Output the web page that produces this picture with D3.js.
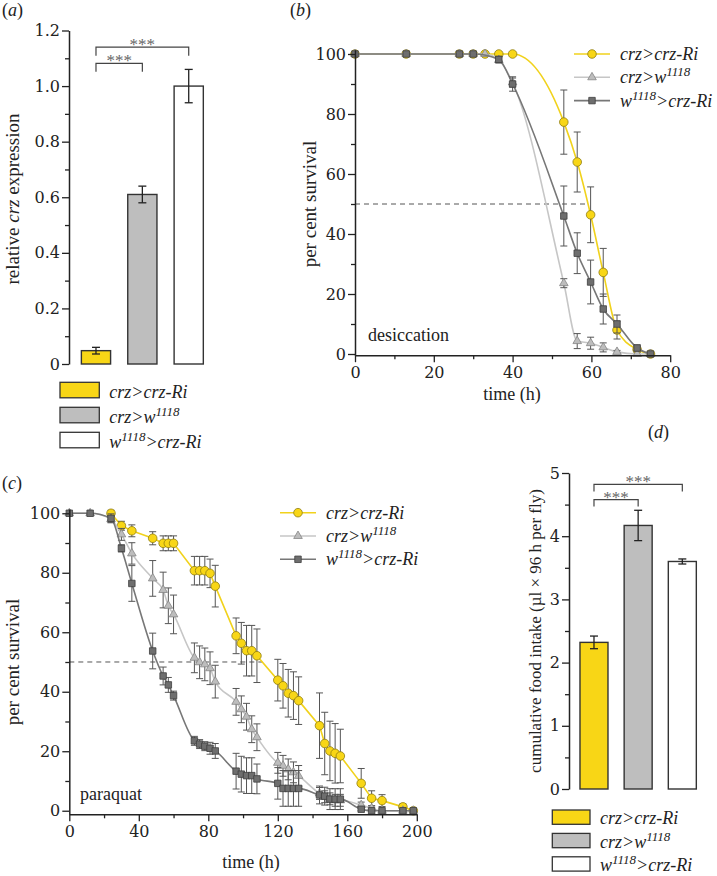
<!DOCTYPE html>
<html>
<head>
<meta charset="utf-8">
<script src="https://d3js.org/d3.v7.min.js"></script>
<style>
  body { margin: 0; background: #fff; }
  svg { display: block; }
  svg text { font-family: "Liberation Serif", "Times New Roman", serif; fill: #222; }
</style>
</head>
<body>
<svg id="fig" width="717" height="876"></svg>
<script>
// ---------------- data ----------------
// genotype labels: pieces of [text, superscript?]
var groupLabels = [
  [["crz>crz-Ri", false]],
  [["crz>w", false], ["1118", true]],
  [["w", false], ["1118", true], [">crz-Ri", false]]
];
var groupFill = ["#f8d616", "#bebebe", "#ffffff"];

// (a) relative crz expression
var exprMean = [0.048, 0.61, 1.0];
var exprErr = [0.012, 0.03, 0.06];
var exprTicks = [0, 0.2, 0.4, 0.6, 0.8, 1.0, 1.2];
var exprSigPairs = [[0, 1], [0, 2]];
var exprSigLevels = [1.082, 1.14];

// (d) cumulative food intake
var intakeMean = [2.32, 4.17, 3.6];
var intakeErr = [0.1, 0.24, 0.04];
var intakeTicks = [0, 1, 2, 3, 4, 5];
var intakeSigPairs = [[0, 1], [0, 2]];
var intakeSigLevels = [4.58, 4.82];

// (b) desiccation survival (%)
var desTime = [0, 13, 26.5, 30, 33, 36.5, 40, 53, 56.4, 59.8, 63, 66.5, 71.6, 75];
var desRi = [100, 100, 100, 100, 100, 100, 100, 77.3, 64, 46.4, 27.2, 8, 1.5, 0];
var desRiErr = [0, 0, 0, 0, 0, 0, 0, 10.7, 10, 9.3, 8, 3, 1, 0];
var desW = [100, 100, 100, 100, 100, 98, 90.5, 23.6, 4.3, 3.6, 2.2, 0.7, 0, 0];
var desWErr = [0, 0, 0, 0, 0, 1, 1.5, 1.5, 2.5, 2, 1.5, 0.5, 0, 0];
var desTimeWRi = [0, 13, 26.5, 30, 36.5, 40, 53, 56.4, 59.8, 63, 66.5, 71.6, 75];
var desWRi = [100, 100, 100, 100, 98.2, 90, 46, 33.6, 24, 15, 10, 2, 0];
var desWRiErr = [0, 0, 0, 0, 1, 2.4, 10, 6.8, 7.3, 5, 3, 1, 0];

// (c) paraquat survival (%)
var parTime = [0, 12, 24, 30, 36, 48, 54, 57, 60, 72, 75, 78, 81, 84, 96, 99, 102, 105, 108,
  120, 123, 126, 129, 132, 144, 147, 150, 153, 156, 168, 174, 180, 192, 198];
var parTimeRi = parTime.slice(2);
var parRi = [100, 95.8, 94.1, 91.6, 89.9, 89.9, 89.9, 80.7, 80.7, 80.7, 79.8, 75.5, 58.8, 56.3,
  53.8, 53.8, 52.1, 43.9, 42, 39.5, 38.7, 37, 28.6, 22.6, 20.1, 19.3, 18.4, 9.2, 4.2, 3.4, 1.3, 0];
var parRiErr = [1, 1.5, 2, 2.2, 2.5, 2.5, 2.5, 4.8, 4.8, 4.8, 4.8, 7, 6, 7, 8.5, 8.5, 9, 7, 7.5,
  8, 8, 8, 11, 10.5, 10, 10, 9, 5, 2.5, 2, 1, 0];
var parW = [100, 100, 98, 92.9, 86.5, 78.1, 74.2, 68.9, 66, 51.4, 49.9, 49.2, 47.9, 43.4, 36.6,
  34.1, 31.6, 27.4, 24.7, 16.1, 15.1, 13.9, 12.9, 11.7, 5.8, 4.7, 4, 3.5, 3.5, 1.9, 0.8, 0, 0, 0];
var parWErr = [0, 0, 1, 2, 3.6, 6, 6, 6, 6.5, 5, 5.5, 5.5, 5.5, 5.5, 4.5, 4.5, 4.5, 4.5, 4.5,
  3.5, 3.5, 3.5, 3.5, 3.5, 2, 2, 2, 2, 2, 1, 0.8, 0, 0, 0];
var parWRi = [100, 100, 98.3, 88.2, 76.4, 53.7, 45.3, 42.3, 38.7, 23.5, 22.4, 21.7, 21, 20.1, 13.3,
  12.3, 11.8, 11.8, 10.7, 9.2, 7.5, 7.5, 7.5, 7.5, 5.3, 4.9, 3.9, 3.9, 3.9, 0.5, 0, 0, 0, 0];
var parWRiErr = [0, 0, 1.5, 1.2, 6, 6, 3, 2.5, 1.5, 1.5, 1.5, 1.5, 2, 2.5, 6, 6, 6, 6, 5,
  5.3, 6, 6, 6, 6, 3, 3, 3.5, 3.5, 3.5, 0.5, 0, 0, 0, 0];

var survTicks = [0, 20, 40, 60, 80, 100];
var survMinor = [10, 30, 50, 70, 90];

// ---------------- helpers ----------------
var svg = d3.select("#fig");
svg.append("rect").attr("width", 717).attr("height", 876).attr("fill", "#fff");

var styles = [
  {line: "#f1d21c", fill: "#f8d616", stroke: "#8f7d10", symbol: d3.symbolCircle, size: 58},
  {line: "#c6c6c6", fill: "#bdbdbd", stroke: "#858585", symbol: d3.symbolTriangle, size: 32},
  {line: "#777777", fill: "#6e6e6e", stroke: "#3e3e3e", symbol: d3.symbolSquare, size: 42}
];

function richLabel(text, pieces) {
  var up = false;
  pieces.forEach(function(p) {
    var ts = text.append("tspan").text(p[0]);
    if (p[1]) { ts.attr("dy", -7).attr("font-size", 13); up = true; }
    else if (up) { ts.attr("dy", 7); up = false; }
  });
}

function styleAxis(g) {
  g.attr("color", "#222");
  g.select(".domain").attr("stroke-width", 1.5);
  g.selectAll(".tick line").attr("stroke-width", 1.3);
  g.selectAll(".tick text").style("font-family", "'DejaVu Serif', serif").style("font-size", "16px");
}

function leftAxis(g, y, major, minor, fmt) {
  g.append("g").call(d3.axisLeft(y).tickValues(minor).tickSize(4).tickFormat("").tickSizeOuter(0))
    .call(function(s) { s.select(".domain").remove(); s.attr("color", "#222"); s.selectAll("line").attr("stroke-width", 1.3); });
  g.append("g").call(d3.axisLeft(y).tickValues(major).tickSize(7).tickPadding(2).tickFormat(fmt).tickSizeOuter(0))
    .call(styleAxis);
}

function bottomAxis(g, x, major, minor) {
  g.append("g").call(d3.axisBottom(x).tickValues(minor).tickSize(4).tickFormat("").tickSizeOuter(0))
    .call(function(s) { s.select(".domain").remove(); s.attr("color", "#222"); s.selectAll("line").attr("stroke-width", 1.3); });
  g.append("g").call(d3.axisBottom(x).tickValues(major).tickSize(7).tickPadding(4).tickSizeOuter(0))
    .call(styleAxis);
}

function yTitle(x, y, pieces, size) {
  var t = svg.append("text").attr("transform", "translate(" + x + "," + y + ") rotate(-90)")
    .attr("text-anchor", "middle").attr("font-size", size || 19);
  pieces.forEach(function(p) { t.append("tspan").attr("font-style", p[1] ? "italic" : null).text(p[0]); });
}

function panelLabel(x, y, letter) {
  var t = svg.append("text").attr("x", x).attr("y", y).attr("font-size", 18);
  t.append("tspan").text("(");
  t.append("tspan").attr("font-style", "italic").text(letter);
  t.append("tspan").text(")");
}

function errorBar(g, cx, yTop, yBot, cap) {
  g.append("line").attr("x1", cx).attr("x2", cx).attr("y1", yTop).attr("y2", yBot);
  g.append("line").attr("x1", cx - cap).attr("x2", cx + cap).attr("y1", yTop).attr("y2", yTop);
  g.append("line").attr("x1", cx - cap).attr("x2", cx + cap).attr("y1", yBot).attr("y2", yBot);
}

function barPanel(opt) {
  var x = d3.scaleBand().domain(d3.range(3)).range(opt.xRange).paddingInner(opt.pad).paddingOuter(opt.pad / 2);
  var y = d3.scaleLinear().domain(opt.yDomain).range(opt.yRange);
  var g = svg.append("g");
  leftAxis(g.append("g").attr("transform", "translate(" + opt.axisX + ",0)"), y, opt.ticks, opt.minor, opt.fmt);

  g.selectAll("rect.bar").data(opt.mean).join("rect").attr("class", "bar")
    .attr("x", function(d, i) { return x(i); })
    .attr("y", function(d) { return y(d); })
    .attr("width", x.bandwidth())
    .attr("height", function(d) { return y(0) - y(d); })
    .attr("fill", function(d, i) { return groupFill[i]; })
    .attr("stroke", "#333").attr("stroke-width", 1.4);

  var eb = g.append("g").attr("stroke", "#222").attr("stroke-width", 1.3);
  opt.mean.forEach(function(m, i) {
    errorBar(eb, x(i) + x.bandwidth() / 2, y(m + opt.err[i]), y(m - opt.err[i]), 4);
  });

  // significance brackets
  var br = g.append("g").attr("stroke", "#444").attr("stroke-width", 1.2).attr("fill", "none");
  opt.sigPairs.forEach(function(p, k) {
    var x1 = x(p[0]) + x.bandwidth() / 2, x2 = x(p[1]) + x.bandwidth() / 2;
    var yl = y(opt.sigLevels[k]), yd = yl + opt.drop;
    br.append("path").attr("d", "M" + x1 + "," + yd + "V" + yl + "H" + x2 + "V" + yd);
    g.append("text").attr("x", (x1 + x2) / 2).attr("y", yl + 3).attr("text-anchor", "middle")
      .attr("font-size", 17).style("fill", "#666").text("***");
  });

  // legend
  var lg = g.append("g");
  groupLabels.forEach(function(lab, i) {
    var top = opt.legTop + i * opt.legStep;
    lg.append("rect").attr("x", opt.legX).attr("y", top).attr("width", opt.legW).attr("height", opt.legH)
      .attr("fill", groupFill[i]).attr("stroke", "#333").attr("stroke-width", 1.3);
    var t = lg.append("text").attr("x", opt.legX + opt.legW + 10).attr("y", top + opt.legH)
      .attr("font-size", 18).attr("font-style", "italic");
    richLabel(t, lab);
  });
}

function drawSeries(g, x, y, times, vals, errs, st, curve) {
  var pts = times.map(function(t, i) { return {t: t, v: vals[i], e: errs[i]}; });
  g.append("path").datum(pts)
    .attr("fill", "none").attr("stroke", st.line).attr("stroke-width", 1.6)
    .attr("d", d3.line().x(function(d) { return x(d.t); }).y(function(d) { return y(d.v); }).curve(curve));
  var eb = g.append("g").attr("stroke", "#555").attr("stroke-width", 1);
  pts.filter(function(d) { return d.e > 0; }).forEach(function(d) {
    errorBar(eb, x(d.t), y(d.v + d.e), y(d.v - d.e), 3.5);
  });
  g.append("g").selectAll("path").data(pts).join("path")
    .attr("transform", function(d) { return "translate(" + x(d.t) + "," + y(d.v) + ")"; })
    .attr("d", d3.symbol(st.symbol, st.size))
    .attr("fill", st.fill).attr("stroke", st.stroke).attr("stroke-width", 0.8);
}

// time where a series first drops to 50 %
function halfTime(times, vals) {
  for (var i = 1; i < vals.length; i++) {
    if (vals[i] <= 50 && vals[i - 1] > 50) {
      return times[i - 1] + (times[i] - times[i - 1]) * (vals[i - 1] - 50) / (vals[i - 1] - vals[i]);
    }
  }
  return times[times.length - 1];
}

function lineLegend(x0, y0, step) {
  groupLabels.forEach(function(lab, i) {
    var yy = y0 + i * step;
    svg.append("line").attr("x1", x0).attr("x2", x0 + 36).attr("y1", yy).attr("y2", yy)
      .attr("stroke", styles[i].line).attr("stroke-width", 1.6);
    svg.append("path").attr("transform", "translate(" + (x0 + 18) + "," + yy + ")")
      .attr("d", d3.symbol(styles[i].symbol, styles[i].size))
      .attr("fill", styles[i].fill).attr("stroke", styles[i].stroke).attr("stroke-width", 0.8);
    var t = svg.append("text").attr("x", x0 + 46).attr("y", yy + 6).attr("font-size", 18).attr("font-style", "italic");
    richLabel(t, lab);
  });
}

function survivalPanel(opt) {
  var x = d3.scaleLinear().domain(opt.xDomain).range(opt.xRange);
  var y = d3.scaleLinear().domain(opt.yDomain).range(opt.yRange);
  var g = svg.append("g");

  // 50 % reference line up to the crz>crz-Ri crossing
  var half = halfTime(opt.ri[0], opt.ri[1]);
  g.append("line").attr("x1", x(0)).attr("x2", x(half)).attr("y1", y(50)).attr("y2", y(50))
    .attr("stroke", "#555").attr("stroke-width", 1).attr("stroke-dasharray", "5,4");

  drawSeries(g, x, y, opt.ri[0], opt.ri[1], opt.ri[2], styles[0], opt.riCurve);
  drawSeries(g, x, y, opt.w[0], opt.w[1], opt.w[2], styles[1], d3.curveMonotoneX);
  drawSeries(g, x, y, opt.wri[0], opt.wri[1], opt.wri[2], styles[2], d3.curveMonotoneX);

  leftAxis(g.append("g").attr("transform", "translate(" + opt.xRange[0] + ",0)"), y, survTicks, survMinor, d3.format("d"));
  bottomAxis(g.append("g").attr("transform", "translate(0," + y(opt.yDomain[0]) + ")"), x, opt.xTicks, opt.xMinor);

  g.append("text").attr("x", opt.condX).attr("y", opt.condY).attr("font-size", 18).text(opt.cond);
  g.append("text").attr("x", opt.xTitleX).attr("y", opt.xTitleY).attr("text-anchor", "middle")
    .attr("font-size", 18).text("time (h)");
}

// ---------------- panel (a) ----------------
panelLabel(2, 16, "a");
barPanel({
  xRange: [72.8, 211.9], pad: 0.37, yDomain: [0, 1.2], yRange: [364, 30.5], axisX: 69,
  mean: exprMean, err: exprErr, ticks: exprTicks, minor: [0.1, 0.3, 0.5, 0.7, 0.9, 1.1],
  fmt: function(d) { return d === 0 ? "0" : d3.format(".1f")(d); },
  sigPairs: exprSigPairs, sigLevels: exprSigLevels, drop: 8.5,
  legX: 60, legW: 39.3, legH: 15.5, legTop: 382.3, legStep: 25
});
yTitle(19, 199, [["relative ", false], ["crz", true], [" expression", false]]);

// ---------------- panel (b) ----------------
panelLabel(290, 16, "b");
survivalPanel({
  xDomain: [0, 80], xRange: [355, 670.2], yDomain: [-0.4, 101.4], yRange: [355.2, 49.8],
  xTicks: [0, 20, 40, 60, 80], xMinor: [10, 30, 50, 70],
  ri: [desTime, desRi, desRiErr], w: [desTime, desW, desWErr], wri: [desTimeWRi, desWRi, desWRiErr],
  riCurve: d3.curveMonotoneX,
  cond: "desiccation", condX: 368, condY: 341, xTitleX: 512, xTitleY: 400
});
yTitle(316, 204, [["per cent survival", false]]);
lineLegend(574, 54, 23.3);

// ---------------- panel (c) ----------------
panelLabel(2, 489, "c");
survivalPanel({
  xDomain: [0, 200], xRange: [69.3, 416.8], yDomain: [-1.2, 101.4], yRange: [814.3, 509.1],
  xTicks: [0, 40, 80, 120, 160, 200], xMinor: [20, 60, 100, 140, 180],
  ri: [parTimeRi, parRi, parRiErr], w: [parTime, parW, parWErr], wri: [parTime, parWRi, parWRiErr],
  riCurve: d3.curveLinear,
  cond: "paraquat", condX: 80, condY: 800, xTitleX: 251, xTitleY: 868
});
yTitle(19, 662, [["per cent survival", false]]);
lineLegend(280, 512.7, 23.3);

// ---------------- panel (d) ----------------
panelLabel(648, 438, "d");
barPanel({
  xRange: [571.9, 704.4], pad: 0.366, yDomain: [0, 5], yRange: [789, 473], axisX: 569,
  mean: intakeMean, err: intakeErr, ticks: intakeTicks, minor: [0.5, 1.5, 2.5, 3.5, 4.5],
  fmt: d3.format("d"),
  sigPairs: intakeSigPairs, sigLevels: intakeSigLevels, drop: 7,
  legX: 552.3, legW: 37.7, legH: 14.3, legTop: 810, legStep: 23.4
});
yTitle(541, 631, [["cumulative food intake (\u00b5l \u00d7 96 h per fly)", false]], 17);
</script>
</body>
</html>
